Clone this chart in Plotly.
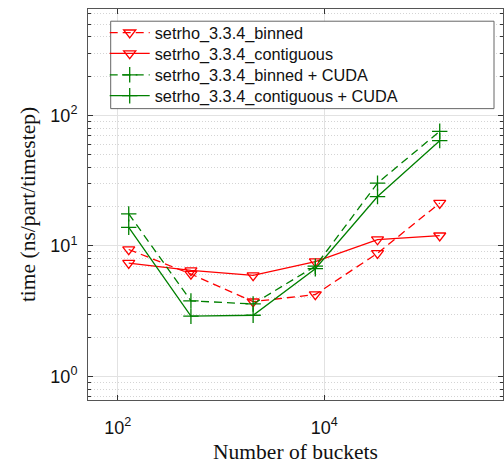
import plotly.graph_objects as go

buckets = [128, 512, 2048, 8192, 32768, 131072]
binned = [9.4, 6.1, 3.75, 4.25, 8.8, 21.3]
contiguous = [7.4, 6.5, 5.95, 7.6, 11.2, 12.0]
binned_cuda = [17.6, 3.8, 3.6, 7.0, 30.3, 75.5]
contiguous_cuda = [13.9, 2.9, 2.95, 6.7, 23.9, 64.0]
names = ["setrho_3.3.4_binned", "setrho_3.3.4_contiguous",
         "setrho_3.3.4_binned + CUDA", "setrho_3.3.4_contiguous + CUDA"]
x_tickvals = [100, 10000]
x_ticktext = ["10<sup>2</sup>", "10<sup>4</sup>"]
y_tickvals = [1, 10, 100]
y_ticktext = ["10<sup>0</sup>", "10<sup>1</sup>", "10<sup>2</sup>"]

RED = "#ff0000"
GREEN = "#008000"
series = [
    (binned, RED, "dash", "triangle-down-open", 10.5),
    (contiguous, RED, "solid", "triangle-down-open", 10.5),
    (binned_cuda, GREEN, "dash", "cross-thin-open", 11),
    (contiguous_cuda, GREEN, "solid", "cross-thin-open", 11),
]
legend_ids = ["legend", "legend2", "legend3", "legend4"]
row_px = [33.5, 54.3, 75.6, 96.5]

fig = go.Figure()
for (vals, col, dash, sym, ms), nm, lg in zip(series, names, legend_ids):
    fig.add_trace(go.Scatter(
        x=buckets, y=vals, name=nm, mode="lines+markers", legend=lg,
        line=dict(color=col, width=1.3, dash="8px,5px" if dash == "dash" else "solid"),
        marker=dict(symbol=sym, size=ms, color=col, line=dict(color=col, width=1.3)),
    ))

axis_common = dict(
    showline=True, linecolor="#555", linewidth=1, mirror="allticks",
    ticks="inside", ticklen=5, tickcolor="#333",
    gridcolor="#e2e2e2", gridwidth=1, zeroline=False,
    tickfont=dict(family="Liberation Sans", size=18, color="#111"),
)
fig.update_xaxes(type="log", range=[1.713, 5.73], tickvals=x_tickvals, ticktext=x_ticktext,
                 ticklabelstandoff=11,
                 title=dict(text="Number of buckets", font=dict(family="Liberation Serif", size=21.5, color="#111"), standoff=7),
                 **axis_common)
fig.update_yaxes(type="log", range=[-0.179, 2.814], tickvals=y_tickvals, ticktext=y_ticktext,
                 ticklabelstandoff=6,
                 title=dict(text="time (ns/part/timestep)", font=dict(family="Liberation Serif", size=21.5, color="#111"), standoff=8),
                 minor=dict(ticks="inside", ticklen=3, tickcolor="#333", showgrid=True,
                            gridcolor="#d4d4d4", griddash="1px,2px", dtick="D1"),
                 **axis_common)

fig.add_shape(type="rect", xref="paper", yref="paper",
              x0=(110.7 - 88) / 415, x1=(494 - 88) / 415,
              y0=1 - (109 - 9.5) / 390.5, y1=1 - (21.7 - 9.5) / 390.5,
              line=dict(color="#666", width=1), fillcolor="white", layer="above")

legend_style = dict(x=(104.7 - 88) / 415, xanchor="left", yanchor="middle",
                    bgcolor="rgba(0,0,0,0)", borderwidth=0,
                    font=dict(family="Liberation Sans", size=16.3, color="#111"),
                    itemwidth=40)
layout_legends = {}
for lg, py in zip(legend_ids, row_px):
    layout_legends[lg] = dict(legend_style, y=1 - (py - 9.5) / 390.5)

fig.update_layout(
    width=504, height=464,
    margin=dict(l=88, r=1, t=9, b=64),
    plot_bgcolor="white", paper_bgcolor="white",
    showlegend=True,
    **layout_legends,
)
fig.write_html("out.html")
